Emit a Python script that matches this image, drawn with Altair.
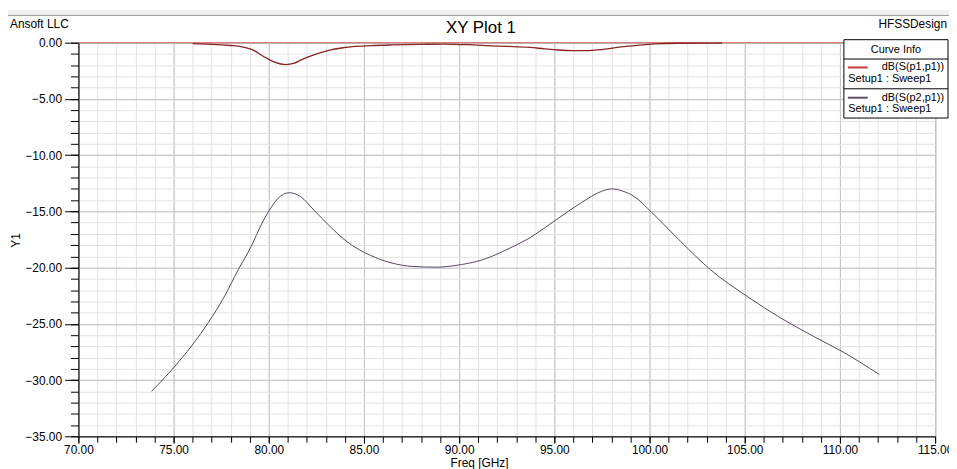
import altair as alt
import pandas as pd

# ---- data ----
freq_s21 = [73.84, 75.0, 75.95, 76.82, 77.69, 78.39, 79.08, 79.6, 80.03, 80.47, 81.08,
            81.68, 82.38, 83.25, 84.11, 85.33, 86.37, 87.58, 88.8, 89.84, 91.23, 92.62,
            93.66, 95.05, 96.44, 97.3, 98.0, 98.6, 99.22, 100.09, 101.65, 103.21,
            105.12, 106.86, 108.6, 110.16, 112.07]
db_s21 = [-31.0, -28.9, -26.95, -24.9, -22.5, -20.2, -18.1, -16.2, -14.9, -13.87, -13.34,
          -13.7, -14.9, -16.4, -17.7, -18.9, -19.55, -19.9, -19.96, -19.8, -19.3, -18.3,
          -17.4, -15.8, -14.2, -13.35, -13.0, -13.2, -13.7, -15.05, -17.7, -20.2,
          -22.55, -24.45, -26.1, -27.5, -29.5]

freq_s11 = [76.0, 77.0, 78.0, 78.4, 79.1, 79.8, 80.3, 80.9, 81.3, 81.7, 82.4, 83.1, 83.9,
            84.6, 85.5, 86.5, 88.0, 89.2, 90.5, 91.4, 92.5, 93.7, 94.5, 95.2, 96.0, 96.8,
            97.4, 98.4, 99.6, 100.3, 101.5, 103.8]
db_s11 = [-0.08, -0.15, -0.25, -0.3, -0.6, -1.3, -1.73, -1.95, -1.85, -1.53, -1.06, -0.7,
          -0.45, -0.33, -0.25, -0.2, -0.15, -0.12, -0.18, -0.26, -0.33, -0.42, -0.55,
          -0.65, -0.7, -0.7, -0.62, -0.4, -0.2, -0.1, -0.05, -0.03]

x_major = [70, 75, 80, 85, 90, 95, 100, 105, 110, 115]
x_minor = list(range(70, 116))
y_major = [0, -5, -10, -15, -20, -25, -30, -35]
y_minor = list(range(-35, 1))

series_names = ["dB(S(p1,p1))", "dB(S(p2,p1))"]
setup_label = "Setup1 : Sweep1"

df21 = pd.DataFrame({"f": freq_s21, "db": db_s21})
df11 = pd.DataFrame({"f": freq_s11, "db": db_s11})

FONT = "Liberation Sans"
C11 = "#8a2424"
C21 = "#5a4560"
C11_LEG = "#c83a3a"
C21_LEG = "#5e4a66"

xs = alt.Scale(domain=[70, 115], nice=False, zero=False)
ys = alt.Scale(domain=[-35, 0], nice=False, zero=False)

# minor grid / minor ticks
minor = alt.Chart(df21).mark_line(strokeOpacity=0).encode(
    x=alt.X("f:Q", scale=xs, axis=alt.Axis(values=x_minor, labels=False, tickSize=6,
            grid=True, gridColor="#e2e2e2", domain=False, title=None, orient="bottom")),
    y=alt.Y("db:Q", scale=ys, axis=alt.Axis(values=y_minor, labels=False, tickSize=8,
            grid=True, gridColor="#e2e2e2", domain=False, title=None, orient="left")),
)

# major axes + S21 curve
s21 = alt.Chart(df21).mark_line(color=C21, strokeWidth=1, interpolate="monotone").encode(
    x=alt.X("f:Q", scale=xs, axis=alt.Axis(values=x_major, format=".2f", tickSize=7,
            grid=True, gridColor="#c2c2c2", domain=True, labelPadding=1,
            labelFlush=False, labelOverlap=False,
            title="Freq [GHz]", titleX=404, titleY=26, titleBaseline="middle",
            titleAlign="center", orient="bottom")),
    y=alt.Y("db:Q", scale=ys, axis=alt.Axis(values=y_major, format=".2f", tickSize=14,
            grid=True, gridColor="#c2c2c2", domain=True, labelPadding=3,
            labelFlush=False, labelOverlap=False,
            title="Y1", titleX=-63, titleY=199, titleBaseline="middle",
            titleAlign="center", orient="left")),
)

zero_rule = alt.Chart(alt.Data(values=[{}])).mark_rule(color="#e06a6a", strokeWidth=1).encode(
    y=alt.YDatum(0, axis=None, scale=ys)
)

s11 = alt.Chart(df11).mark_line(color=C11, strokeWidth=1.3, interpolate="monotone").encode(
    x=alt.X("f:Q", scale=xs, axis=None),
    y=alt.Y("db:Q", scale=ys, axis=None),
)

one = alt.Data(values=[{}])

def txt(s, x, y, size=12, align="left", color="black"):
    return alt.Chart(one).mark_text(text=s, font=FONT, fontSize=size, align=align,
                                    baseline="middle", color=color).encode(
        x=alt.value(x), y=alt.value(y))

def rect(x, x2, y, y2, fill, stroke=None):
    kw = dict(fill=fill)
    if stroke:
        kw.update(stroke=stroke, strokeWidth=1)
    return alt.Chart(one).mark_rect(**kw).encode(
        x=alt.value(x), x2=alt.value(x2), y=alt.value(y), y2=alt.value(y2))

def hline(x, x2, y, color, width=1):
    return alt.Chart(one).mark_rule(color=color, strokeWidth=width).encode(
        x=alt.value(x), x2=alt.value(x2), y=alt.value(y))

decor = [
    rect(-71, 878, -33, -28, "#f0f0f0"),
    hline(-71, 878, -27.5, "#9a9a9a"),
    txt("Ansoft LLC", -69, -19, 12),
    txt("XY Plot 1", 406, -15, 17, align="center"),
    txt("HFSSDesign", 876, -19, 12, align="right"),
    # legend box
    rect(772, 877, -3, 76, "white", stroke="black"),
    txt("Curve Info", 824.5, 7, 11, align="center"),
    hline(772, 877, 16.5, "black"),
    hline(772, 877, 46.5, "black"),
    hline(776, 796, 25, C11_LEG, 2),
    txt(series_names[0], 873, 25, 11, align="right"),
    txt(setup_label, 776.5, 36.5, 11),
    hline(776, 796, 55.5, C21_LEG, 2),
    txt(series_names[1], 873, 55.5, 11, align="right"),
    txt(setup_label, 776.5, 66.5, 11),
]

chart = alt.layer(minor, s21, zero_rule, s11, *decor).resolve_axis(
    x="independent", y="independent"
).properties(
    width=864, height=397,
    autosize=alt.AutoSizeParams(type="none"),
    padding={"left": 71, "top": 33, "right": 14, "bottom": 34},
    background="white",
).configure_view(
    stroke="black", strokeWidth=1
).configure_axis(
    labelFont=FONT, labelFontSize=12, labelColor="black",
    titleFont=FONT, titleFontSize=12, titleFontWeight="normal", titleColor="black",
    tickColor="black", domainColor="black", tickWidth=1, domainWidth=1,
)

chart.save("out.html", embed_options={"renderer": "svg", "actions": False})
